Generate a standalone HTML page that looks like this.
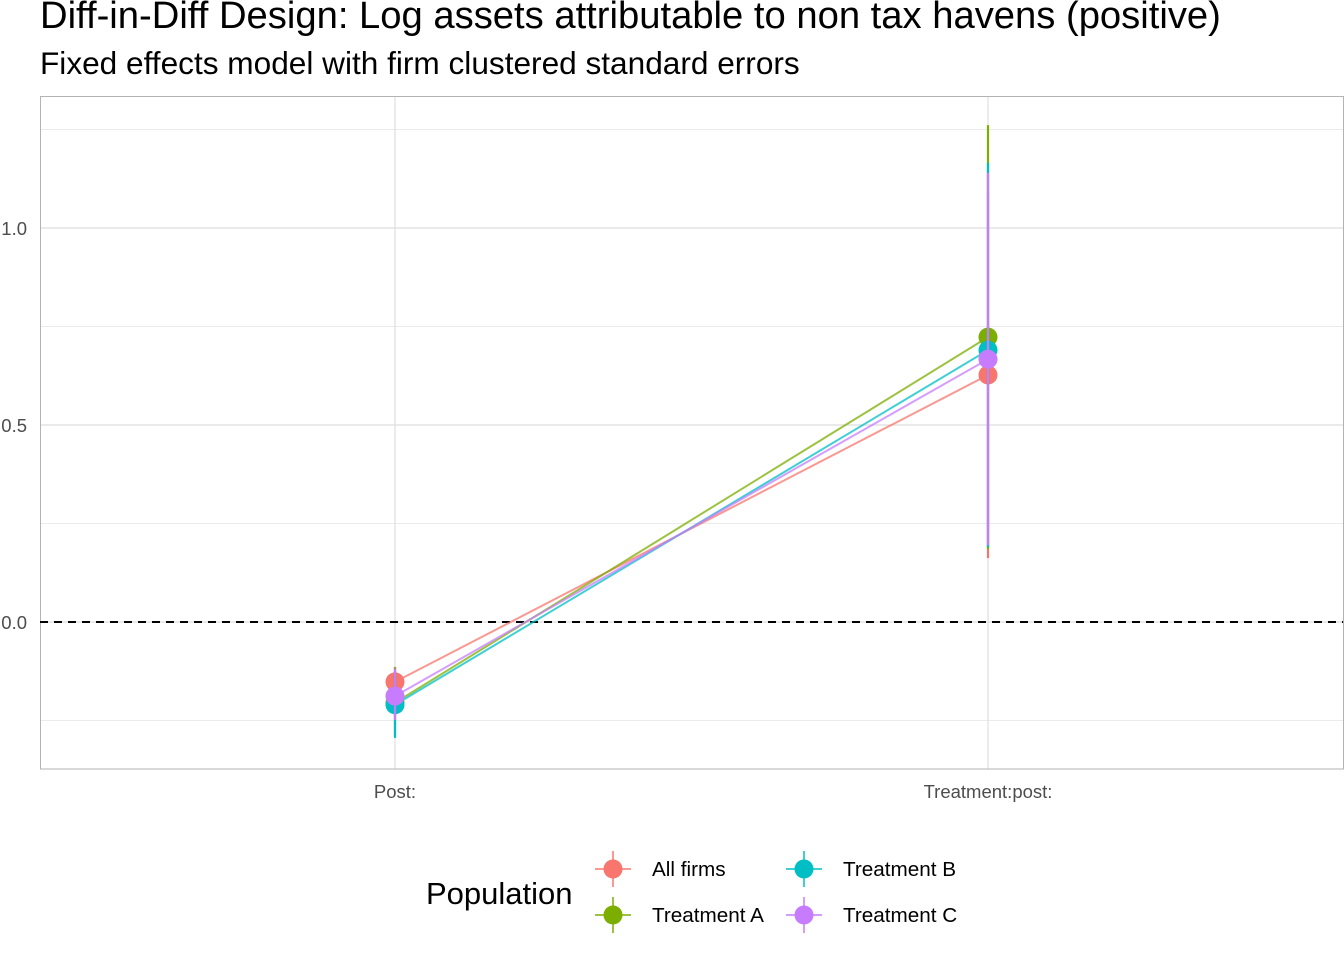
<!DOCTYPE html>
<html><head><meta charset="utf-8"><style>
body{margin:0;background:#fff;font-family:"Liberation Sans",sans-serif}
</style></head><body>
<svg width="1344" height="960" xmlns="http://www.w3.org/2000/svg" font-family="Liberation Sans, sans-serif">
<text x="40" y="28" font-size="38.2" fill="#000">Diff-in-Diff Design: Log assets attributable to non tax havens (positive)</text>
<text x="40" y="74" font-size="31.6" fill="#000">Fixed effects model with firm clustered standard errors</text>
<g id="grid"></g>
<rect x="40.5" y="96.5" width="1303" height="672.5" fill="none" stroke="#b3b3b3"/>
<line x1="40" x2="1343" y1="622" y2="622" stroke="#000" stroke-width="2" stroke-dasharray="8,6"/>
<g id="marks"></g>
<g id="axes"></g>
<g>
<text x="426" y="904" font-size="31">Population</text>
<g id="legend"></g>
</g>
</svg>
<script>
const categories=["Post:","Treatment:post:"];
const seriesNames=["All firms","Treatment A","Treatment B","Treatment C"];
const colors=["#F8766D","#7CAE00","#00BFC4","#C77CFF"];
const estPost=[-0.152,-0.205,-0.21,-0.188];
const estTreat=[0.627,0.723,0.69,0.667];
const loPost=[-0.19,-0.29,-0.294,-0.249];
const hiPost=[-0.114,-0.115,-0.125,-0.118];
const loTreat=[0.162,0.185,0.19,0.195];
const hiTreat=[1.09,1.261,1.165,1.14];
const yTicks=[0,0.5,1.0];
const yTickLabels=["0.0","0.5","1.0"];
const yMinor=[-0.25,0.25,0.75,1.25];
const NS="http://www.w3.org/2000/svg";
const y=v=>622-v*394;
const x=i=>395+i*593;
function mk(tag,attrs,parent){const e=document.createElementNS(NS,tag);for(const k in attrs)e.setAttribute(k,attrs[k]);document.getElementById(parent).appendChild(e);return e;}
yMinor.forEach(v=>{const l=mk('line',{x1:40,x2:1343,y1:y(v),y2:y(v),stroke:'#ebebeb','stroke-width':1},'grid');

});
yTicks.forEach((v,i)=>{const l=mk('line',{x1:40,x2:1343,y1:y(v),y2:y(v),stroke:'#dedede','stroke-width':1.2},'grid');


const t=mk('text',{x:27,y:y(v)+7,'font-size':18.5,fill:'#4d4d4d','text-anchor':'end'},'axes');t.textContent=yTickLabels[i];

});
categories.forEach((c,i)=>{const l=mk('line',{x1:x(i),x2:x(i),y1:96,y2:769,stroke:'#dedede','stroke-width':1.2},'grid');


const t=mk('text',{x:x(i),y:798,'font-size':18.5,fill:'#4d4d4d','text-anchor':'middle'},'axes');t.textContent=c;

});
seriesNames.forEach((s,k)=>{
const ln=mk('line',{x1:x(0),y1:y(estPost[k]),x2:x(1),y2:y(estTreat[k]),stroke:colors[k],'stroke-width':2,'stroke-opacity':0.75},'marks');

});
seriesNames.forEach((s,k)=>{
[[0,loPost,hiPost,estPost],[1,loTreat,hiTreat,estTreat]].forEach(([i,lo,hi,est])=>{
const e=mk('line',{x1:x(i),x2:x(i),y1:y(lo[k]),y2:y(hi[k]),stroke:colors[k],'stroke-width':2.2},'marks');


const p=mk('circle',{cx:x(i),cy:y(est[k]),r:9.5,fill:colors[k]},'marks');

});});
const lx=[613,613,804,804],ly=[869,915,869,915],order=[0,1,2,3];
order.forEach(k=>{
const cx=lx[k],cy=ly[k];
const a=mk('line',{x1:cx-18,x2:cx+18,y1:cy,y2:cy,stroke:colors[k],'stroke-width':1.5},'legend');


const b=mk('line',{x1:cx,x2:cx,y1:cy-18,y2:cy+18,stroke:colors[k],'stroke-width':1.5},'legend');


const c=mk('circle',{cx:cx,cy:cy,r:9.5,fill:colors[k]},'legend');


const t=mk('text',{x:cx+39,y:cy+7,'font-size':20.7,fill:'#000'},'legend');t.textContent=seriesNames[k];

});
</script>
</body></html>
